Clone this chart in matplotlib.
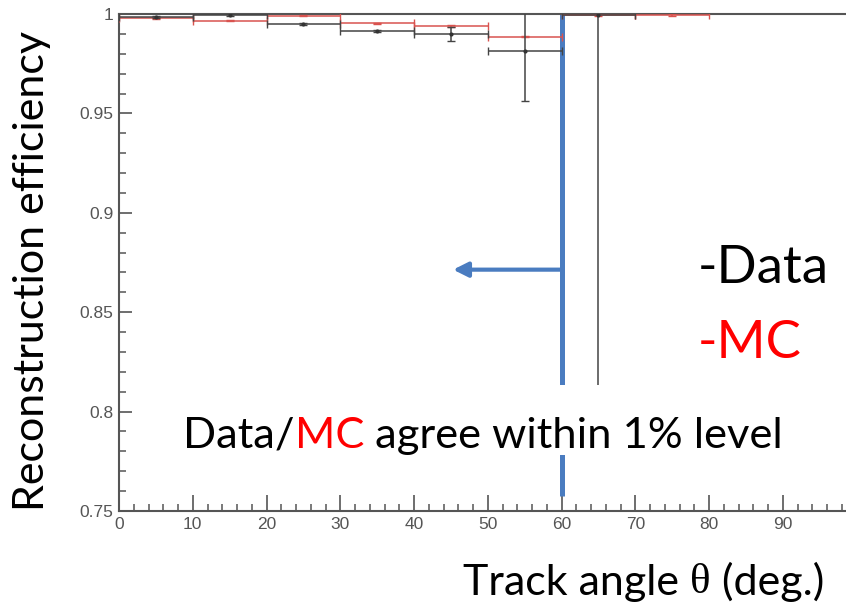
import matplotlib
matplotlib.use("Agg")
import matplotlib.pyplot as plt
from matplotlib.patches import Rectangle
from matplotlib.ticker import MultipleLocator

# Data (black) and MC (red) efficiency per 10 deg bin
data_angle = [5, 15, 25, 35, 45, 55, 65]
data_eff = [0.9985, 0.9995, 0.9948, 0.9915, 0.9900, 0.9814, 0.9993]
data_err = [0.0004, 0.0004, 0.0005, 0.0004, 0.0035, 0.0254, 0.19]

mc_angle = [5, 15, 25, 35, 45, 55, 65, 75]
mc_eff = [0.9980, 0.9967, 0.9992, 0.9953, 0.9940, 0.9886, 0.9995, 0.9995]
mc_err = [0.0003, 0.0003, 0.0003, 0.0003, 0.0003, 0.0004, 0.0003, 0.0003]

bin_half = 5
cut_angle = 60

font = ["Lato", "DejaVu Sans"]
blue = "#4a7cc0"

fig = plt.figure(figsize=(8.46, 6.03), dpi=100)
ax = fig.add_axes([119 / 846, 92 / 603, 737.5 / 846, 497 / 603])

ax.errorbar(mc_angle, mc_eff, xerr=bin_half, yerr=mc_err, fmt="none",
            ecolor="#d9534f", elinewidth=1.1, capsize=3, zorder=3)
ax.errorbar(data_angle, data_eff, xerr=bin_half, yerr=data_err, fmt=".",
            color="#333333", ecolor="#444444", ms=4, elinewidth=1.1,
            capsize=3, zorder=3)

# selection cut line and arrow
ax.plot([cut_angle, cut_angle], [0.7575, 1.0], color=blue, lw=3.6,
        zorder=2, solid_capstyle="butt")
ax.annotate("", xy=(45.3, 0.8714), xytext=(cut_angle, 0.8714),
            arrowprops=dict(arrowstyle="-|>", color=blue, lw=3,
                            mutation_scale=22, shrinkA=0, shrinkB=0),
            zorder=2)

ax.set_xlim(0, 100)
ax.set_ylim(0.75, 1.0)
ax.xaxis.set_minor_locator(MultipleLocator(2))
ax.yaxis.set_minor_locator(MultipleLocator(0.01))
ax.set_xticks(range(0, 100, 10))
ax.set_xticklabels([str(v) for v in range(0, 100, 10)])
ax.set_yticks([0.75, 0.8, 0.85, 0.9, 0.95, 1.0])
ax.set_yticklabels(["0.75", "0.8", "0.85", "0.9", "0.95", "1"])
ax.tick_params(which="major", direction="in", width=1.2,
               color="#555555", labelsize=12.5, labelcolor="#555555", pad=4)
ax.tick_params(axis="x", which="major", length=11.5)
ax.tick_params(axis="y", which="major", length=9)
ax.tick_params(which="minor", direction="in", length=5, width=1.1,
               color="#555555")
for lbl in ax.get_xticklabels() + ax.get_yticklabels():
    lbl.set_family(["Liberation Sans", "DejaVu Sans"])
for side in ["left", "bottom", "top"]:
    ax.spines[side].set_color("#555555")
    ax.spines[side].set_linewidth(1.5)
ax.spines["right"].set_visible(False)

# white box behind the comment
ax.add_patch(Rectangle((22, 0.7782), 50, 0.0352, fc="white", ec="none",
                       zorder=4))

# comment text with coloured MC
t1 = ax.text(8.7, 0.7817, "Data/", fontsize=31.3, family=font,
             va="baseline", zorder=6)
t2 = ax.annotate("MC", xy=(1, 0), xycoords=t1, va="bottom", fontsize=31.3,
                 family=font, color="red", zorder=6)
ax.annotate(" agree within 1% level", xy=(1, 0), xycoords=t2,
            va="bottom", fontsize=31.3, family=font, zorder=6)

ax.text(78.5, 0.8647, "-Data", fontsize=38, family=font, va="baseline")
ax.text(78.5, 0.8270, "-MC", fontsize=38, family=font, color="red",
        va="baseline")

fig.text(0.038, 0.55, "Reconstruction efficiency", rotation=90, fontsize=31,
         family=font, ha="center", va="center")

x1 = fig.text(463 / 846, 8 / 603, "Track angle ", fontsize=31, family=font,
              va="baseline")
x2 = ax.annotate("\u03b8", xy=(1, 0), xycoords=x1, va="bottom", fontsize=31,
                 family=["Liberation Serif", "DejaVu Serif"],
                 annotation_clip=False)
ax.annotate(" (deg.)", xy=(1, 0), xycoords=x2, va="bottom", fontsize=31,
            family=font, annotation_clip=False)

fig.savefig("out.png", dpi=100)
